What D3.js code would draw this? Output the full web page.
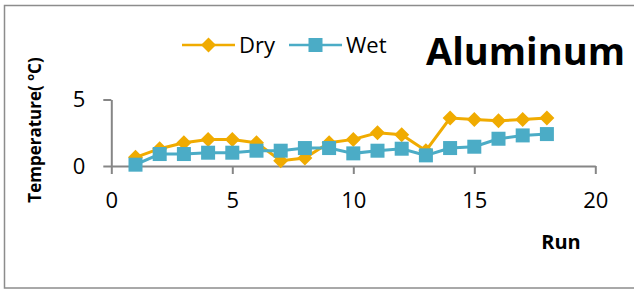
<!DOCTYPE html>
<html>
<head>
<meta charset="utf-8">
<script src="https://cdn.jsdelivr.net/npm/d3@7"></script>
<style>
    html, body { margin: 0; padding: 0; background: #fff; }
    svg { display: block; font-family: "Open Sans", "DejaVu Sans", sans-serif; }
</style>
</head>
<body>
<div id="chart"></div>
<script>
// Dry vs wet temperature per run (aluminum)
const runs = [1, 2, 3, 4, 5, 6, 7, 8, 9, 10, 11, 12, 13, 14, 15, 16, 17, 18];
const dryValues = [0.65, 1.3, 1.75, 2.0, 2.0, 1.75, 0.4, 0.6, 1.75, 2.0, 2.5, 2.35, 1.15, 3.6, 3.5, 3.4, 3.5, 3.6];
const wetValues = [0.1, 0.9, 0.9, 1.0, 1.0, 1.15, 1.15, 1.35, 1.35, 0.95, 1.15, 1.3, 0.8, 1.35, 1.45, 2.05, 2.3, 2.4];
const xTicks = [0, 5, 10, 15, 20];
const yTicks = [0, 5];

const DRY_COLOR = '#F0AB00';
const WET_COLOR = '#4BACC6';
const AXIS_COLOR = '#868686';

const width = 634, height = 291;

const svg = d3.select('#chart').append('svg')
    .attr('width', width)
    .attr('height', height);

// Outer chart border
svg.append('rect')
    .attr('x', 4.5).attr('y', 5.5)
    .attr('width', 640).attr('height', 282.5)
    .attr('fill', 'none')
    .attr('stroke', '#8c8c8c')
    .attr('stroke-width', 1.5);

const x = d3.scaleLinear().domain([0, 20]).range([111.3, 595.3]);
const y = d3.scaleLinear().domain([0, 5]).range([166, 99.5]);

// Axes
const xAxis = svg.append('g')
    .attr('transform', `translate(0,${y(0)})`)
    .call(d3.axisBottom(x).tickValues(xTicks).tickFormat(d3.format('d'))
        .tickSize(8).tickPadding(18).tickSizeOuter(0));

const yAxis = svg.append('g')
    .attr('transform', `translate(${x(0)},0)`)
    .call(d3.axisLeft(y).tickValues(yTicks).tickFormat(d3.format('d'))
        .tickSize(8).tickPadding(18).tickSizeOuter(0));

for (const g of [xAxis, yAxis]) {
    g.select('.domain').attr('stroke', AXIS_COLOR).attr('stroke-width', 2);
    g.selectAll('.tick line').attr('stroke', AXIS_COLOR).attr('stroke-width', 2);
    g.selectAll('.tick text')
        .attr('fill', '#000')
        .attr('font-size', '22px')
        .attr('font-family', '"Open Sans", sans-serif');
}

// Series
const series = [
    { name: 'Dry', values: dryValues, color: DRY_COLOR, marker: 'diamond' },
    { name: 'Wet', values: wetValues, color: WET_COLOR, marker: 'square' },
];

const line = d3.line()
    .x(d => x(d.run))
    .y(d => y(d.v));

function drawMarker(sel, type, color) {
    if (type === 'diamond') {
        sel.append('path')
            .attr('d', 'M0,-7.5L7.5,0L0,7.5L-7.5,0Z')
            .attr('fill', color);
    } else {
        sel.append('rect')
            .attr('x', -7).attr('y', -7)
            .attr('width', 14).attr('height', 14)
            .attr('fill', color);
    }
}

for (const s of series) {
    const pts = runs.map((r, i) => ({ run: r, v: s.values[i] }));
    svg.append('path')
        .datum(pts)
        .attr('fill', 'none')
        .attr('stroke', s.color)
        .attr('stroke-width', 3)
        .attr('d', line);

    svg.append('g').selectAll('g')
        .data(pts)
        .join('g')
        .attr('transform', d => `translate(${x(d.run)},${y(d.v)})`)
        .each(function () { drawMarker(d3.select(this), s.marker, s.color); });
}

// Legend
const legendItems = [
    { name: 'Dry', color: DRY_COLOR, marker: 'diamond', x0: 182 },
    { name: 'Wet', color: WET_COLOR, marker: 'square', x0: 289 },
];
for (const item of legendItems) {
    const g = svg.append('g').attr('transform', `translate(${item.x0},45)`);
    g.append('line')
        .attr('x1', 0).attr('x2', 53)
        .attr('stroke', item.color).attr('stroke-width', 2.5);
    const m = g.append('g').attr('transform', 'translate(26.5,0)');
    drawMarker(m, item.marker, item.color);
    g.append('text')
        .attr('x', 57).attr('y', 0).attr('dy', '0.35em')
        .attr('font-size', '22px')
        .attr('fill', '#000')
        .text(item.name);
}

// Title
svg.append('text')
    .attr('x', 426).attr('y', 65)
    .attr('font-size', '38px')
    .attr('font-weight', 'bold')
    .attr('fill', '#000')
    .text('Aluminum');

// Axis titles
svg.append('text')
    .attr('x', 561).attr('y', 249)
    .attr('text-anchor', 'middle')
    .attr('font-size', '20px')
    .attr('font-weight', 'bold')
    .text('Run');

const yTitle = svg.append('text')
    .attr('transform', 'translate(41,130) rotate(-90)')
    .attr('text-anchor', 'middle')
    .attr('font-size', '17px')
    .attr('font-weight', 'bold');
yTitle.append('tspan').text('Temperature( ');
yTitle.append('tspan').attr('font-size', '11px').attr('dy', '-7').text('o');
yTitle.append('tspan').attr('dy', '7').text('C)');
</script>
</body>
</html>
